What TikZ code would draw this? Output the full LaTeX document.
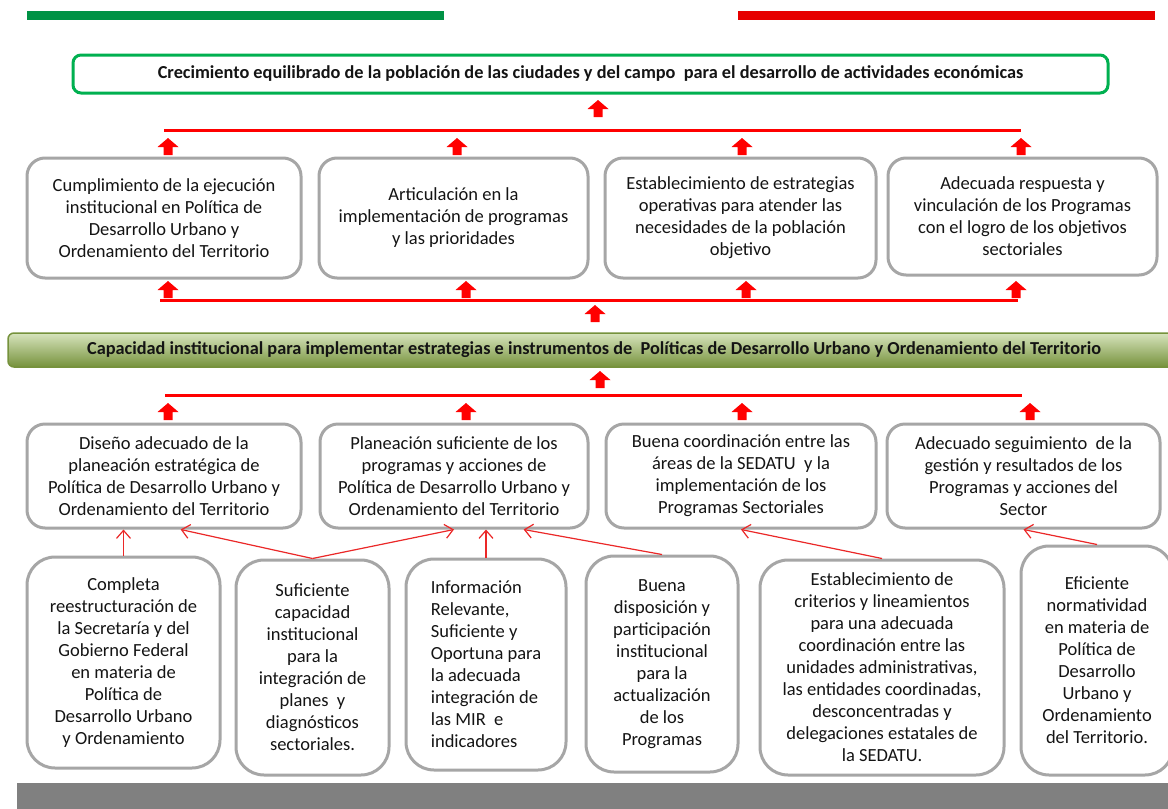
\documentclass[tikz,border=0pt]{standalone}
\usepackage{fontspec}
\setmainfont{Carlito}
\usetikzlibrary{arrows.meta,calc}
\definecolor{txt}{RGB}{20,20,20}
\definecolor{boxgray}{RGB}{166,166,166}
\definecolor{topgreen}{RGB}{0,146,69}
\definecolor{topred}{RGB}{230,0,0}
\definecolor{brdgreen}{RGB}{0,176,80}
\definecolor{barlight}{RGB}{215,228,189}
\definecolor{bardark}{RGB}{118,146,60}
\definecolor{bottomgray}{RGB}{128,128,128}
\begin{document}
\begin{tikzpicture}[x=1pt,y=-1pt,
  box/.style={draw=boxgray, line width=3pt, rounded corners=18pt, fill=white,
    align=center, inner sep=0pt, text=txt, font=\fontsize{18.5}{22}\selectfont},
  lowbox/.style={box, rounded corners=28pt},
  redline/.style={draw=red, line width=3pt},
  conn/.style={draw={rgb,255:red,235;green,40;blue,40}, line width=1.2pt,
    -{Straight Barb[length=8pt,width=14pt,line width=1.2pt]}},
  uparr/.pic={\fill[red] (-4.5,0) -- (-4.5,-8) -- (-10.5,-8) -- (0,-17) -- (10.5,-8) -- (4.5,-8) -- (4.5,0) -- cycle;}
]
\clip (0,0) rectangle (1168,809);
\fill[white] (0,0) rectangle (1168,809);

% top bars
\fill[topgreen] (27,11) rectangle (444,20);
\fill[topred] (738,11) rectangle (1155,20);

% goal box
\node[draw=brdgreen, line width=3pt, rounded corners=8pt, fill=white,
  minimum width=1035pt, minimum height=38pt, inner sep=0pt, text=txt,
  font=\fontsize{18.3}{21}\bfseries] (goal) at (590.5,74)
  {Crecimiento equilibrado de la población de las ciudades y del campo\ \ para el desarrollo de actividades económicas};

\pic at (598,117) {uparr};
\coordinate (la1) at (164,130); \coordinate (la2) at (1021,130);
\draw[redline] (la1) -- (la2);
\foreach \x in {168,457,742,1021} \pic at (\x,155) {uparr};

% row 1
\node[box, minimum width=274pt, minimum height=120pt] (A1) at (164,218)
  {Cumplimiento de la ejecución\\institucional en Política de\\Desarrollo Urbano y\\Ordenamiento del Territorio};
\node[box, minimum width=269pt, minimum height=120pt] (A2) at (453.5,218)
  {Articulación en la\\implementación de programas\\y las prioridades};
\node[box, minimum width=271pt, minimum height=120pt] (A3) at (740.5,218)
  {Establecimiento de estrategias\\operativas para atender las\\necesidades de la población\\objetivo};
\node[box, minimum width=269pt, minimum height=117pt] (A4) at (1022.5,216.5)
  {Adecuada respuesta y\\vinculación de los Programas\\con el logro de los objetivos\\sectoriales};

\foreach \x in {168,466,746,1016} \pic at (\x,298) {uparr};
\coordinate (lb1) at (160,300); \coordinate (lb2) at (1018,300);
\draw[redline] (lb1) -- (lb2);
\pic at (595,322) {uparr};

% middle bar
\node[draw=bardark, line width=1.5pt, rounded corners=6pt, top color=barlight, bottom color=bardark,
  minimum width=1172pt, minimum height=34pt, inner sep=0pt, text=txt,
  font=\fontsize{18.3}{21}\bfseries] (purpose) at (594,350)
  {Capacidad institucional para implementar estrategias e instrumentos de\ \ Políticas de Desarrollo Urbano y Ordenamiento del Territorio};

\pic at (600,388) {uparr};
\coordinate (lc1) at (165,395); \coordinate (lc2) at (1022,395);
\draw[redline] (lc1) -- (lc2);
\foreach \x in {168,466,742,1030} \pic at (\x,420) {uparr};

% row 2
\node[box, minimum width=274pt, minimum height=104pt] (B1) at (164,476)
  {Diseño adecuado de la\\planeación estratégica de\\Política de Desarrollo Urbano y\\Ordenamiento del Territorio};
\node[box, minimum width=268pt, minimum height=104pt] (B2) at (454,476)
  {Planeación suficiente de los\\programas y acciones de\\Política de Desarrollo Urbano y\\Ordenamiento del Territorio};
\node[box, minimum width=270pt, minimum height=104pt] (B3) at (741,476)
  {Buena coordinación entre las\\áreas de la SEDATU\ \ y la\\implementación de los\\Programas Sectoriales};
\node[box, minimum width=273pt, minimum height=104pt] (B4) at (1023.5,476)
  {Adecuado seguimiento\ \ de la\\gestión y resultados de los\\Programas y acciones del\\Sector};

% lower boxes
\node[lowbox, minimum width=193pt, minimum height=211pt] (C1) at (123.5,662.5)
  {Completa\\reestructuración de\\la Secretaría y del\\Gobierno Federal\\en materia de\\Política de\\Desarrollo Urbano\\y Ordenamiento};
\node[lowbox, minimum width=153pt, minimum height=215pt] (C2) at (312.5,667.5)
  {Suficiente\\capacidad\\institucional\\para la\\integración de\\planes\ \ y\\diagnósticos\\sectoriales.};
\node[lowbox, minimum width=160pt, minimum height=211pt, align=left] (C3) at (486,664.5)
  {Información\\Relevante,\\Suficiente y\\Oportuna para\\la adecuada\\integración de\\las MIR\ \ e\\indicadores};
\node[lowbox, minimum width=152pt, minimum height=216pt] (C4) at (662,664)
  {Buena\\disposición y\\participación\\institucional\\para la\\actualización\\de los\\Programas};
\node[lowbox, minimum width=244pt, minimum height=215pt] (C5) at (882,667.5)
  {Establecimiento de\\criterios y lineamientos\\para una adecuada\\coordinación entre las\\unidades administrativas,\\las entidades coordinadas,\\desconcentradas y\\delegaciones estatales de\\la SEDATU.};
\node[lowbox, minimum width=152pt, minimum height=229pt] (C6) at (1097,660.5)
  {Eficiente\\normatividad\\en materia de\\Política de\\Desarrollo\\Urbano y\\Ordenamiento\\del Territorio.};

% connectors
\draw[conn] (C1.north) -- (C1.north |- B1.south);
\draw[conn] (C2.north) -- ($(B1.south west)!0.56!(B1.south east)$);
\draw[conn] (C2.north) -- (B2.south);
\draw[conn] (C3.north) -- (C3.north |- B2.south);
\draw[conn] (C4.north) -- ($(B2.south west)!0.757!(B2.south east)$);
\draw[conn] (C5.north) -- (B3.south);
\draw[conn] (C6.north) -- (B4.south);

% bottom bar
\fill[bottomgray] (17,783) rectangle (1168,809);
\end{tikzpicture}
\end{document}
